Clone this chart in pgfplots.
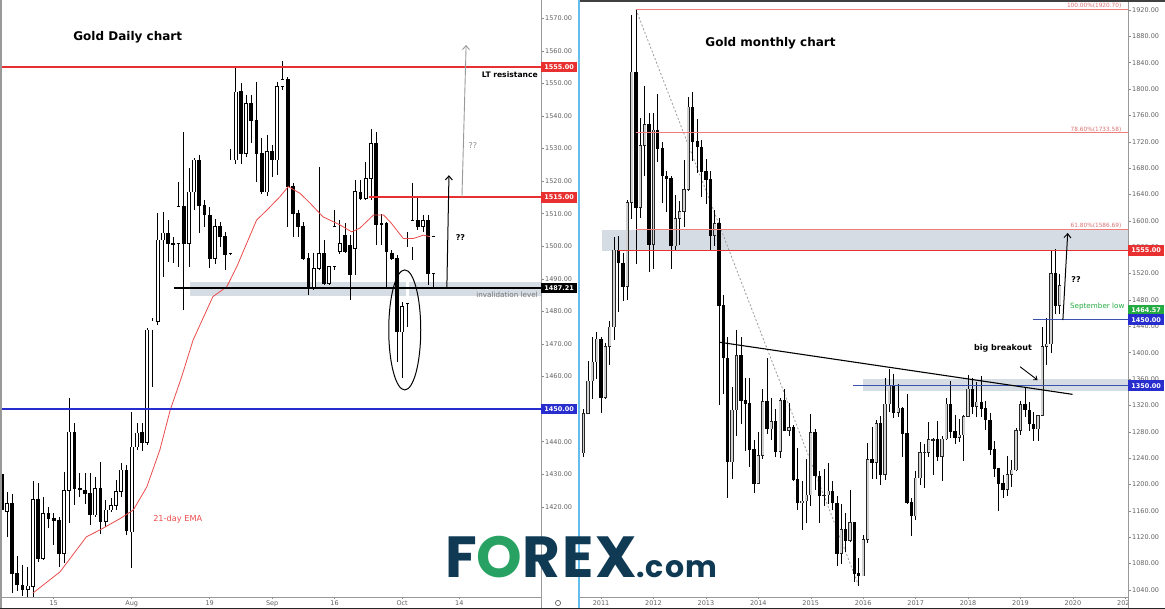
\documentclass[border=0pt]{standalone}
\usepackage{pgfplots}
\usepackage{pgfplotstable}
\pgfplotsset{compat=1.18}
\usetikzlibrary{arrows.meta}
\usepackage{fontspec}
\setmainfont{DejaVu Sans}
\newfontfamily\logofont{Poppins}
\definecolor{tvred}{RGB}{232,48,48}
\definecolor{fibred}{RGB}{240,125,125}
\definecolor{tvblue}{RGB}{40,45,205}
\definecolor{lblue}{RGB}{60,80,175}
\definecolor{band}{RGB}{214,220,228}
\definecolor{tvgreen}{RGB}{35,170,65}
\definecolor{navy}{RGB}{16,58,84}
\definecolor{fxgreen}{RGB}{40,162,98}
\definecolor{divider}{RGB}{100,190,235}
\definecolor{emared}{RGB}{235,75,75}
\newcommand\fs[1]{\fontsize{#1}{#1}\selectfont}
% daily candles (index, open, high, low, close)
\pgfplotstableread{
i o h l c
1 1418.5 1424.6 1410.8 1421.0
5 1394.6 1401.6 1392.4 1395.7
6 1395.5 1428 1392.4 1422.3
8 1404.2 1423 1403.6 1418
12 1405.7 1430.8 1402.6 1425.1
13 1425.1 1453.3 1414.9 1443
18 1417.5 1429.2 1417 1425.6
20 1415.4 1422.1 1413.9 1419
21 1419 1422.6 1418.5 1420.5
22 1420.5 1428.2 1419 1424.6
23 1424.6 1433.3 1423.1 1431.3
25 1412.3 1449.2 1401.1 1438.4
26 1438.4 1445.7 1437.4 1442.7
28 1439.7 1475 1439 1474.3
29 1474.3 1478 1456.8 1477
30 1477 1510.1 1475.8 1501.9
31 1501.9 1510.6 1490.6 1504.1
34 1500.9 1519.8 1493.7 1512.1
36 1500.9 1523.9 1493.7 1516.7
37 1516.7 1527.0 1511.1 1526.5
41 1496.3 1508.5 1494.7 1506.0
44 1497.8 1530.0 1497.3 1526.5
45 1526.5 1555.1 1525.4 1547.4
47 1528.5 1546.4 1527.5 1543.9
51 1516.7 1534.0 1515.5 1529.0
53 1526.5 1550.5 1521.8 1549.0
54 1549.0 1557.0 1548.0 1551.2
60 1487.1 1497.8 1486.5 1493.2
61 1493.2 1524.4 1492.7 1497.8
63 1488.6 1493.7 1488.1 1493.7
64 1493.7 1511.1 1492.7 1506.0
65 1498.3 1508.0 1497.5 1500.9
68 1499.3 1520.3 1491.2 1516.7
70 1514.7 1525.9 1514.2 1520.8
71 1520.8 1535.9 1514.2 1531.6
77 1473.7 1483.0 1459.4 1481.4
78 1482.4 1504.5 1475.3 1499.8
79 1499.8 1519.3 1495.8 1508.0
81 1506.0 1509.6 1504.5 1508.0
83 1491.7 1503.0 1487.1 1502.9
}\dayup
\pgfplotstableread{
i o h l c
0 1430 1433 1417 1419
2 1421 1424 1393.4 1399.6
3 1399.6 1405 1394 1396.0
4 1396 1402 1392.6 1394.6
7 1422.3 1427.2 1403.1 1404.2
9 1418 1420 1413.4 1416.4
10 1416.4 1418 1408.3 1415.9
11 1415.9 1417 1401.6 1405.7
14 1443 1445.6 1420.5 1425.6
15 1425.6 1430.3 1423.1 1425.3
16 1425.1 1430.3 1421 1424.1
17 1424.1 1430.3 1414.4 1417.5
19 1425.6 1433.8 1411.8 1415.4
24 1431.3 1432.8 1411.3 1412.7
27 1442.7 1445.7 1437.0 1439.6
32 1504.1 1508.0 1495.2 1500.7
33 1500.9 1502.9 1494.7 1500.7
35 1512.1 1535.2 1480.4 1500.9
38 1526.5 1528.0 1504.0 1512.6
39 1512.6 1514.2 1506.0 1509.6
40 1509.6 1512.1 1493.2 1496.3
42 1506.0 1507.5 1499.9 1502.9
43 1502.9 1504.5 1492.7 1497.3
46 1547.4 1550.0 1525.4 1528.5
48 1543.9 1546.4 1531.6 1538.7
49 1538.7 1550.5 1519.8 1528.5
50 1528.5 1533.1 1516.0 1516.7
52 1529.0 1531.0 1521.3 1526.5
55 1551.2 1552.0 1506.0 1518.3
56 1518.3 1519.3 1502.9 1510.1
57 1510.1 1511.0 1502.9 1506.0
58 1506.0 1507.5 1495.8 1496.3
59 1496.3 1497.8 1485.0 1487.1
62 1497.8 1501.9 1488.1 1488.6
66 1503.4 1507.0 1497.8 1498.3
67 1500.4 1503.4 1483.5 1491.2
69 1516.7 1520.3 1514.2 1514.7
72 1531.6 1535.2 1500.4 1506.5
73 1507.0 1510.0 1500.4 1506.5
74 1507.0 1507.5 1487.1 1498.3
75 1497.8 1498.8 1495.8 1496.3
76 1496.3 1497.3 1464.5 1473.7
80 1508.0 1515.0 1505.0 1506.0
82 1508.0 1509.6 1488.1 1491.7
}\daydn
% monthly candles (months since Jan 2011, open, high, low, close)
\pgfplotstableread{
i o h l c
-4 1248 1315 1241 1308
-3 1308 1387 1307 1357
-2 1357 1424 1330 1386
-1 1386 1431 1360 1421
1 1332 1414 1330 1409
2 1409 1448 1382 1439
3 1439 1576 1419 1556
6 1500 1632 1480 1628
7 1628 1912 1603 1826
9 1620 1756 1604 1714
10 1714 1804 1668 1746
12 1564 1764 1527 1738
17 1562 1640 1556 1604
18 1604 1630 1564 1614
19 1614 1693 1590 1648
20 1648 1788 1645 1773
26 1578 1616 1562 1596
30 1234 1348 1208 1313
31 1313 1434 1273 1396
36 1202 1280 1202 1244
37 1244 1345 1238 1326
39 1284 1331 1268 1296
41 1250 1332 1240 1327
43 1282 1323 1273 1287
46 1172 1206 1131 1175
47 1175 1238 1142 1184
48 1184 1307 1167 1279
51 1183 1224 1168 1184
52 1184 1232 1170 1190
55 1095 1170 1080 1132
57 1115 1191 1113 1142
60 1061 1123 1061 1117
61 1117 1263 1111 1238
63 1233 1298 1208 1293
65 1215 1362 1207 1322
66 1322 1375 1310 1351
68 1309 1352 1302 1316
72 1152 1220 1146 1210
73 1210 1264 1199 1249
74 1249 1262 1194 1249.5
75 1249 1295 1241 1268
76 1268 1270 1214 1268.5
78 1242 1274 1205 1269
79 1269 1331 1267 1322
82 1271 1299 1264 1275
83 1275 1306 1236 1303
84 1303 1366 1302 1345
86 1318 1356 1303 1325
93 1192 1243 1182 1215
94 1215 1237 1196 1222
95 1222 1285 1221 1282
96 1282 1326 1275 1321
100 1284 1306 1266 1305
101 1305 1439 1305 1409
102 1409 1452 1381 1413
103 1413 1555 1400 1520
105 1472 1519 1459 1502
}\monup
\pgfplotstableread{
i o h l c
0 1421 1424 1309 1332
4 1556 1577 1462 1536
5 1536 1552 1478 1500
8 1826 1920.7 1535 1620
11 1746 1764 1523 1564
13 1738 1792 1689 1710
14 1710 1720 1627 1668
15 1668 1676 1613 1664
16 1664 1668 1527 1562
21 1773 1796 1691 1720
22 1720 1755 1672 1712
23 1712 1723 1636 1675
24 1675 1694 1626 1663
25 1663 1676 1555 1578
27 1596 1605 1321 1472
28 1472 1488 1338 1392
29 1392 1424 1180 1234
32 1396 1424 1292 1327
33 1327 1361 1251 1323
34 1323 1361 1227 1253
35 1253 1267 1187 1202
38 1326 1392 1277 1284
40 1296 1315 1241 1250
42 1327 1345 1281 1282
44 1287 1290 1206 1208
45 1208 1255 1161 1172
49 1279 1284 1192 1213
50 1213 1220 1142 1183
53 1190 1205 1162 1172
54 1172 1182 1077 1095
56 1132 1157 1098 1115
58 1142 1142 1052 1065
59 1065 1088 1046 1061
62 1238 1287 1208 1233
64 1293 1304 1199 1215
67 1351 1367 1301 1309
69 1316 1318 1241 1277
70 1277 1337 1171 1173
71 1173 1180 1122 1152
77 1268 1296 1236 1242
80 1322 1357 1271 1280
81 1280 1306 1261 1271
85 1345 1362 1307 1318
87 1325 1365 1302 1315
88 1315 1326 1282 1298
89 1298 1309 1245 1253
90 1253 1266 1211 1224
91 1224 1225 1160 1201
92 1201 1214 1180 1192
97 1321 1347 1303 1313
98 1313 1325 1281 1292
99 1292 1310 1266 1284
104 1520 1557 1459 1472
}\mondn
\pgfplotsset{
 tvchart/.style={
  scale only axis, height=597pt, anchor=south west,
  axis x line*=bottom, axis y line*=right,
  axis line style={draw=black!40, line width=0.8pt},
  tick style={draw=black!45, line width=0.5pt},
  major tick length=2.5pt, tick align=outside,
  yticklabel pos=right,
  ticklabel style={font=\fs{6.5}, text=black!62},
  yticklabel style={inner sep=1.5pt},
  xticklabel style={inner sep=1pt},
  /pgf/number format/fixed, /pgf/number format/fixed zerofill,
  /pgf/number format/precision=2, /pgf/number format/1000 sep={},
  /pgf/number format/assume math mode=true,
  clip=false,
 },
 wick/.style={draw=none, mark=none, forget plot, error bars/.cd, y dir=both, y explicit, error mark=none,
   error bar style={draw=black, line width=0.7pt, solid}},
 body/.style 2 args={draw=none, mark=none, forget plot, error bars/.cd, y dir=both, y explicit, error mark=none,
   error bar style={draw=#1, line width=#2, solid}},
}
\begin{document}
\begin{tikzpicture}[x=1pt,y=1pt]
\useasboundingbox (0,0) rectangle (1165,609);
% ---------------- LEFT: daily ----------------
\begin{axis}[tvchart, at={(0pt,12pt)}, width=541pt,
  xmin=-0.33, xmax=103.7, ymin=1392.3, ymax=1575.6,
  ytick={1420,1430,...,1570},
  xtick={10,25,40,52,64,77,88}, xticklabels={15,Aug,19,Sep,16,Oct,14}]
\fill[band] (axis cs:36.2,1484.7) rectangle (axis cs:103.7,1489);
\addplot[wick] table[x=i, y expr={(\thisrow{h}+\thisrow{l})/2}, y error expr={(\thisrow{h}-\thisrow{l})/2}] {\dayup};
\addplot[wick] table[x=i, y expr={(\thisrow{h}+\thisrow{l})/2}, y error expr={(\thisrow{h}-\thisrow{l})/2}] {\daydn};
\addplot[body={black}{3.7pt}] table[x=i, y expr={(\thisrow{o}+\thisrow{c})/2}, y error expr={(\thisrow{c}-\thisrow{o})/2+0.11}] {\dayup};
\addplot[body={white}{2.3pt}] table[x=i, y expr={(\thisrow{o}+\thisrow{c})/2}, y error expr={max((\thisrow{c}-\thisrow{o})/2-0.11,0)}] {\dayup};
\addplot[body={black}{3.7pt}] table[x=i, y expr={(\thisrow{o}+\thisrow{c})/2}, y error expr={(\thisrow{o}-\thisrow{c})/2+0.11}] {\daydn};
% 21-day EMA
\addplot[emared, line width=0.8pt] coordinates {(6.0,1393.5) (11.2,1400) (16.3,1410.8) (18.9,1412.9) (22.8,1416.4) (25.3,1419) (27.9,1426.1) (30.4,1437.4) (32.4,1449.7) (34.6,1459.9) (36.8,1471.2) (40.6,1484.5) (43.3,1487.6) (45.2,1493.7) (49.0,1508) (51.0,1511.1) (53.5,1515.2) (55.1,1518.3) (57.4,1516.2) (59.3,1513.2) (61.8,1509) (65.1,1506.5) (67.3,1504.4) (68.9,1505.6) (71.5,1509.6) (73.4,1509.6) (74.7,1507.5) (77.2,1502.4) (79.2,1502.4) (81.1,1503.4) (82.4,1502.9)};
% horizontal levels
\addplot[tvred, line width=1.8pt] coordinates {(-0.33,1555) (103.7,1555)};
\addplot[tvred, line width=1.8pt] coordinates {(70.7,1515) (103.7,1515)};
\addplot[tvblue, line width=1.3pt] coordinates {(-0.33,1450) (103.7,1450)};
\addplot[black, line width=1.3pt] coordinates {(33.1,1487.21) (103.7,1487.21)};
% annotations
\draw[line width=1pt] (axis cs:77.5,1474.3) ellipse [x radius=16pt, y radius=60pt];
\draw[-{Straight Barb[length=4pt,width=7pt]}, line width=1pt] (axis cs:85.6,1487.5) -- (axis cs:86.0,1521.8);
\draw[-{Straight Barb[length=4pt,width=7pt]}, line width=0.9pt, black!40] (axis cs:88.5,1515.1) -- (axis cs:89.3,1561.8);
\node[black!45, font=\fs{8}] at (axis cs:90.6,1531) {??};
\node[font=\fs{8}\bfseries] at (axis cs:88.2,1502.8) {??};
\node[anchor=west, font=\fs{12}\bfseries] at (axis cs:13.1,1564.2) {Gold Daily chart};
\node[anchor=west, emared, font=\fs{8.2}, inner sep=0] at (axis cs:29.1,1416.2) {21-day EMA};
\node[anchor=east, font=\fs{7.6}\bfseries, inner sep=1pt] at (axis cs:103.3,1552.7) {LT resistance};
\node[anchor=east, black!55, font=\fs{7.2}, inner sep=1pt] at (axis cs:103.3,1485.2) {invalidation level};
\coordinate (LA) at (axis cs:103.7,1555);
\coordinate (LB) at (axis cs:103.7,1515);
\coordinate (LC) at (axis cs:103.7,1487.21);
\coordinate (LD) at (axis cs:103.7,1450);
\end{axis}
% ---------------- RIGHT: monthly ----------------
\begin{axis}[tvchart, at={(580pt,12pt)}, width=548pt,
  xmin=-4.81, xmax=120.6, ymin=1029.3, ymax=1935.2,
  ytick={1040,1080,...,1920},
  xtick={0,12,...,120}, xticklabels={2011,2012,2013,2014,2015,2016,2017,2018,2019,2020,2021}]
\fill[band] (axis cs:0.2,1555) rectangle (axis cs:120.6,1586.69);
\fill[band] (axis cs:60,1341.5) rectangle (axis cs:120.6,1360.3);
\addplot[black!40, line width=0.8pt, dash pattern=on 2pt off 2pt] coordinates {(8,1920.7) (59,1046)};
\addplot[wick] table[x=i, y expr={(\thisrow{h}+\thisrow{l})/2}, y error expr={(\thisrow{h}-\thisrow{l})/2}] {\monup};
\addplot[wick] table[x=i, y expr={(\thisrow{h}+\thisrow{l})/2}, y error expr={(\thisrow{h}-\thisrow{l})/2}] {\mondn};
\addplot[body={black!85}{3.3pt}] table[x=i, y expr={(\thisrow{o}+\thisrow{c})/2}, y error expr={(\thisrow{c}-\thisrow{o})/2+0.53}] {\monup};
\addplot[body={black!18}{1.9pt}] table[x=i, y expr={(\thisrow{o}+\thisrow{c})/2}, y error expr={max((\thisrow{c}-\thisrow{o})/2-0.53,0)}] {\monup};
\addplot[body={black}{3.3pt}] table[x=i, y expr={(\thisrow{o}+\thisrow{c})/2}, y error expr={(\thisrow{o}-\thisrow{c})/2+0.53}] {\mondn};
% levels
\addplot[fibred, line width=0.9pt] coordinates {(8,1920.7) (120.6,1920.7)};
\addplot[fibred, line width=0.9pt] coordinates {(8,1733.58) (120.6,1733.58)};
\addplot[fibred, line width=0.9pt] coordinates {(8,1586.69) (120.6,1586.69)};
\addplot[tvred, line width=1.8pt] coordinates {(3.9,1555) (120.6,1555)};
\addplot[lblue, line width=1.3pt] coordinates {(57.7,1350) (120.6,1350)};
\addplot[lblue, line width=1.3pt] coordinates {(98.8,1450) (120.6,1450)};
\addplot[black, line width=1.1pt] coordinates {(27.2,1415.8) (107.9,1336.8)};
\node[anchor=south east, fibred!90!black, font=\fs{5.8}, inner sep=0.8pt] at (axis cs:119.3,1920.7) {100.00\%(1920.70)};
\node[anchor=south east, fibred!90!black, font=\fs{5.8}, inner sep=0.8pt] at (axis cs:119.3,1733.58) {78.60\%(1733.58)};
\node[anchor=south east, fibred!90!black, font=\fs{5.8}, inner sep=0.8pt] at (axis cs:119.3,1586.69) {61.80\%(1586.69)};
\node[anchor=west, font=\fs{12}\bfseries] at (axis cs:23.1,1870) {Gold monthly chart};
\node[font=\fs{8}\bfseries] at (axis cs:92,1407) {big breakout};
\draw[-{Straight Barb[length=3pt,width=5pt]}, line width=0.9pt] (axis cs:95.9,1378.7) -- (axis cs:99.9,1358.5);
\draw[-{Straight Barb[length=4pt,width=7pt]}, line width=1pt] (axis cs:105.7,1449.6) -- (axis cs:106.8,1581.6);
\node[anchor=west, font=\fs{8}\bfseries, inner sep=0] at (axis cs:107.6,1511) {??};
\node[anchor=west, tvgreen, font=\fs{7.2}, inner sep=0] at (axis cs:107.3,1470.8) {September low};
\coordinate (RA) at (axis cs:120.6,1555);
\coordinate (RB) at (axis cs:120.6,1464.57);
\coordinate (RC) at (axis cs:120.6,1450);
\coordinate (RD) at (axis cs:120.6,1350);
\end{axis}
% price labels on the scales
\tikzset{plab/.style={anchor=west, text=white, font=\fs{6.5}\bfseries, inner sep=0.5pt, minimum width=36pt, minimum height=10.5pt}}
\node[plab, fill=tvred] at (LA) {1555.00};
\node[plab, fill=tvred] at (LB) {1515.00};
\node[plab, fill=black] at (LC) {1487.21};
\node[plab, fill=tvblue] at (LD) {1450.00};
\node[plab, fill=tvred] at (RA) {1555.00};
\node[plab, fill=tvgreen] at (RB) {1464.57};
\node[plab, fill=tvblue] at (RC) {1450.00};
\node[plab, fill=tvblue] at (RD) {1350.00};
% frame pieces
\fill[white] (1128.6,0) rectangle (1165,11.5);
\draw[black!40, line width=0.8pt] (541,0) -- (541,12);
\draw[black!40, line width=0.8pt] (1128,0) -- (1128,12);
\draw[black!40, line width=1.6pt] (0.8,0) -- (0.8,609);
\draw[divider, line width=1.6pt] (579,0) -- (579,609);
\draw[black!75, line width=1.6pt] (580,608.2) -- (1165,608.2);
\draw[black!85, line width=1.4pt] (0,0.7) -- (1165,0.7);
\draw[black!60, line width=0.7pt] (558,6) circle (2.6pt);
% logo
\node[anchor=base west, inner sep=0] at (445,31) {\logofont\bfseries\addfontfeatures{LetterSpace=3}\fs{58}\textcolor{navy}{F}\textcolor{fxgreen}{O}\textcolor{navy}{REX}\fs{30}\textcolor{navy}{.com}};
\end{tikzpicture}
\end{document}
